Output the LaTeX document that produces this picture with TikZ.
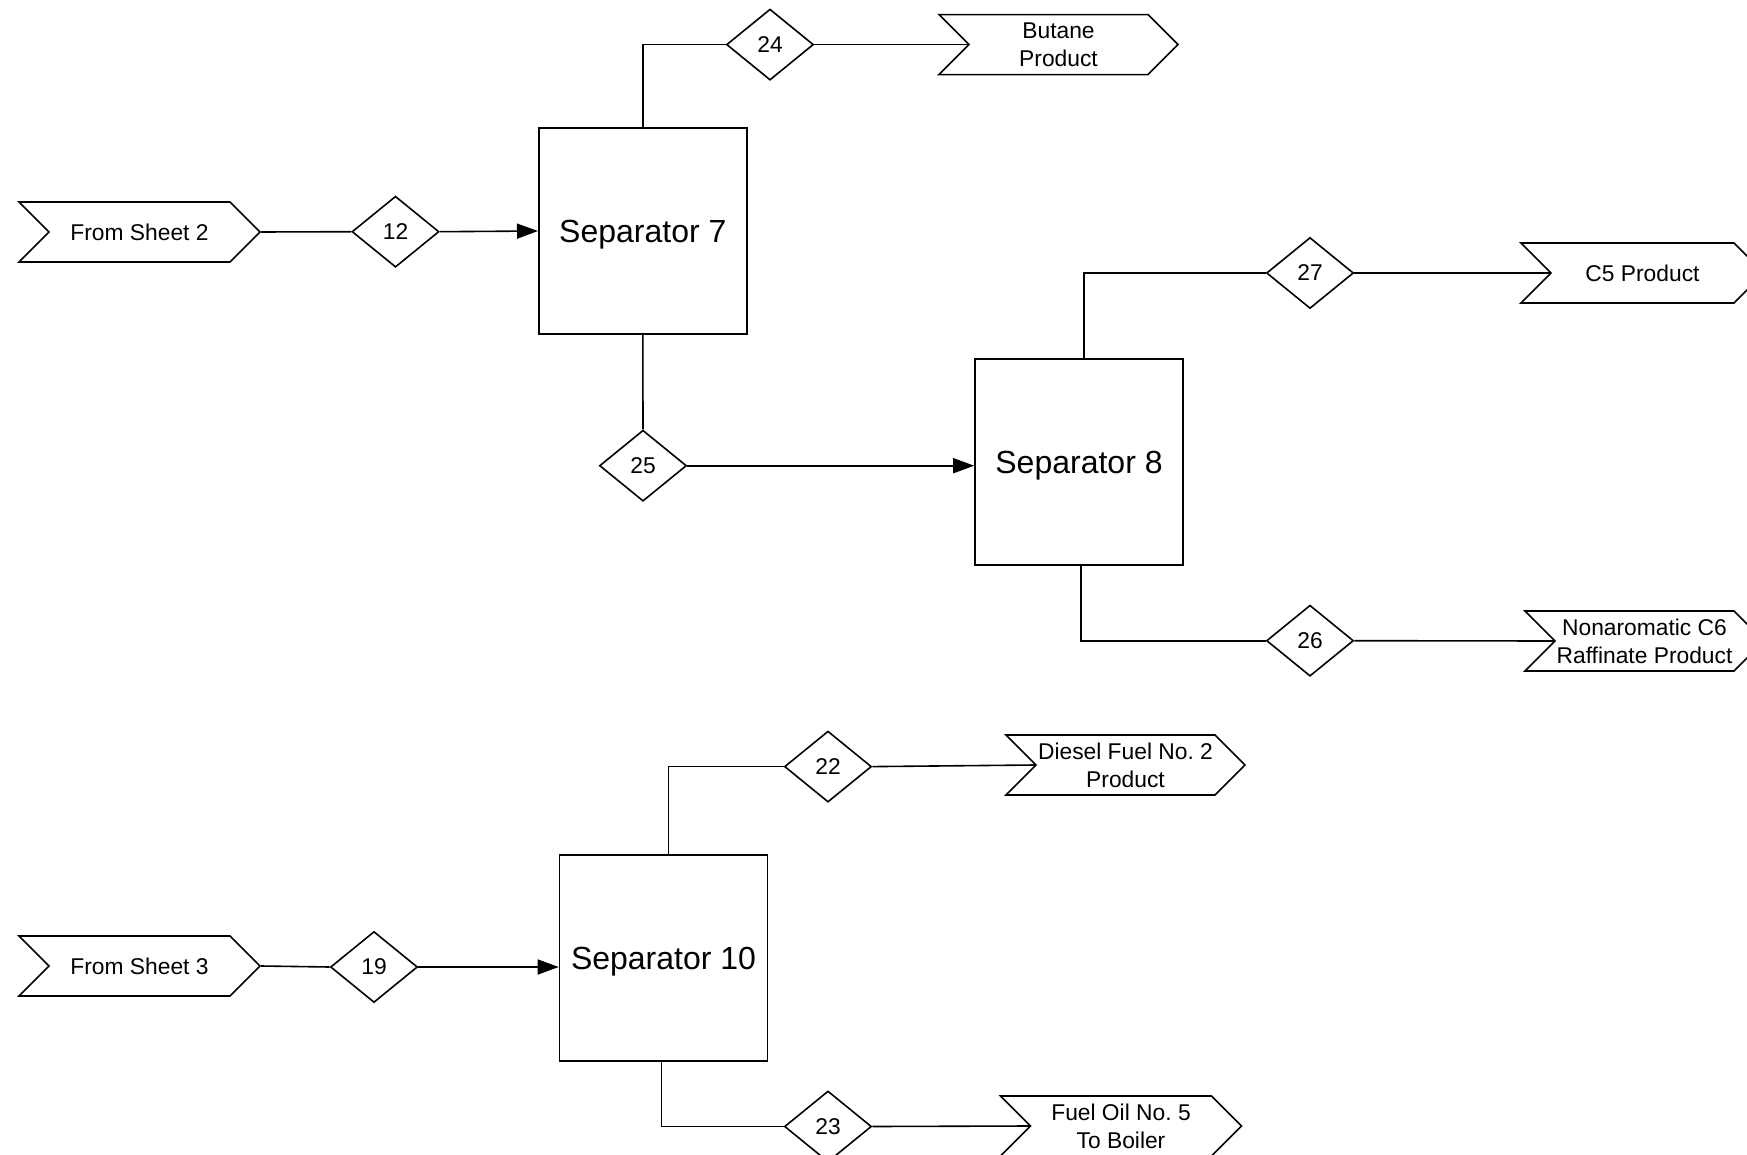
\documentclass[tikz,border=0pt]{standalone}
\usepackage{fontspec}
\setmainfont{Liberation Sans}
\usetikzlibrary{shapes.geometric,shapes.symbols,arrows.meta}
\frenchspacing

\begin{document}
\begin{tikzpicture}[x=1pt,y=-1pt,
  line width=1.6pt,
  lbl/.style={font=\fontsize{22.8}{28}\selectfont, align=center},
  tag/.style={lbl, draw, fill=white, shape=signal, signal to=east, signal from=west,
              signal pointer angle=90, inner sep=0pt, minimum height=60pt},
  stream/.style={lbl, draw, fill=white, shape=diamond, inner sep=0pt,
                 minimum width=87pt, minimum height=71pt},
  unitbox/.style={draw, fill=white, inner sep=0pt, minimum width=208pt,
                  minimum height=206pt, text depth=0pt, font=\fontsize{32}{38}\selectfont},
  pipe/.style={draw},
  feed/.style={pipe, -{Triangle[length=21pt,width=15pt]}},
]
\useasboundingbox (0,0) rectangle (1747,1155);

% process units
\node[unitbox] (sep7)  at (642.8,231)  {Separator 7};
\node[unitbox] (sep8)  at (1079,462)   {Separator 8};
\node[unitbox] (sep10) at (663.5,958)  {Separator 10};

% stream numbers
\node[stream] (d12) at (395.5,231.7) {12};
\node[stream] (d24) at (770,44.6)    {24};
\node[stream] (d25) at (643,465.7)   {25};
\node[stream] (d27) at (1310,273)    {27};
\node[stream] (d26) at (1310,640.7)  {26};
\node[stream] (d22) at (828,766.6)   {22};
\node[stream] (d19) at (374,967)     {19};
\node[stream] (d23) at (828,1126.5)  {23};

% off-sheet connectors
\node[tag, minimum width=241pt] (from2)   at (139.5,232)   {From Sheet 2};
\node[tag, minimum width=239pt] (butane)  at (1058.5,44.6) {Butane\\Product};
\node[tag, minimum width=243pt] (c5)      at (1642.5,273)  {C5 Product};
\node[tag, minimum width=239pt] (nonarom) at (1644.5,641)  {Nonaromatic C6\\Raffinate Product};
\node[tag, minimum width=239pt] (diesel)  at (1125.5,765)  {Diesel Fuel No. 2\\Product};
\node[tag, minimum width=241pt] (from3)   at (139.5,966)   {From Sheet 3};
\node[tag, minimum width=241pt] (fuel)    at (1121,1126)   {Fuel Oil No. 5\\To Boiler};

% stream lines
\draw[pipe] (from2.east) -- (d12.west);
\draw[feed] (d12.east) -- (sep7.west);
\draw[pipe] (sep7.north) |- (d24.west);
\draw[pipe] (d24.east) -- (butane.west);
\draw[pipe] (sep7.south) -- (d25.north);
\draw[feed] (d25.east) -- (sep8.west |- d25.east);
\draw[pipe] ([xshift=5pt]sep8.north) |- (d27.west);
\draw[pipe] (d27.east) -- (c5.west);
\draw[pipe] ([xshift=2pt]sep8.south) |- (d26.west);
\draw[pipe] (d26.east) -- (nonarom.west);
\draw[pipe] ([xshift=5pt]sep10.north) |- (d22.west);
\draw[pipe] (d22.east) -- (diesel.west);
\draw[pipe] (from3.east) -- (d19.west);
\draw[feed] (d19.east) -- (sep10.west |- d19.east);
\draw[pipe] ([xshift=-2pt]sep10.south) |- (d23.west);
\draw[pipe] (d23.east) -- (fuel.west);
\end{tikzpicture}
\end{document}
